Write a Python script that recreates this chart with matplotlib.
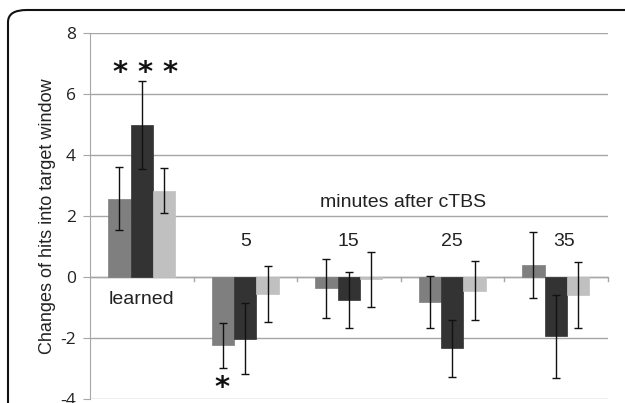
import numpy as np
import matplotlib.pyplot as plt
from matplotlib.patches import FancyBboxPatch

plt.rcParams['font.family'] = ['Liberation Sans', 'DejaVu Sans']

groups      = ["learned", "5", "15", "25", "35"]
series_a    = [2.57, -2.23, -0.37, -0.80, 0.40]
series_b    = [4.99, -2.02, -0.75, -2.33, -1.94]
series_c    = [2.84, -0.55, -0.07, -0.44, -0.58]
err_a       = [1.04, 0.74, 0.98, 0.85, 1.07]
err_b       = [1.43, 1.16, 0.92, 0.94, 1.36]
err_c       = [0.75, 0.93, 0.89, 0.96, 1.07]
y_ticks     = [-4, -2, 0, 2, 4, 6, 8]

colors = ["#7f7f7f", "#333333", "#c0c0c0"]

fig = plt.figure(figsize=(6.25, 4.03), dpi=100)
ax  = fig.add_axes([90 / 625, 3.7 / 403, 517.5 / 625, 366.3 / 403])

x     = np.arange(len(groups))
width = 0.217

for k, (vals, errs) in enumerate([(series_a, err_a), (series_b, err_b), (series_c, err_c)]):
    pos = x + (k - 1) * width
    ax.bar(pos, vals, width, color=colors[k], edgecolor=colors[k], linewidth=0.5, zorder=3)
    ax.errorbar(pos, vals, yerr=errs, fmt="none", ecolor="#111111",
                elinewidth=1.0, capsize=3, capthick=1.0, zorder=4)

ax.set_xlim(-0.5, len(groups) - 0.5)
ax.set_ylim(-4, 8)
ax.set_yticks(y_ticks)
ax.set_yticklabels([str(t) for t in y_ticks], fontsize=12.5, color="#222222",
                   family=['Open Sans', 'DejaVu Sans'])
ax.set_xticks([])
ax.yaxis.grid(True, color="#a6a6a6", linewidth=1.0, zorder=0)
ax.set_axisbelow(True)
ax.tick_params(axis="y", length=5, color="#a6a6a6", pad=5)

for side in ["top", "right", "bottom"]:
    ax.spines[side].set_visible(False)
ax.spines["left"].set_color("#a6a6a6")

# zero axis with category ticks
ax.axhline(0, color="#a6a6a6", linewidth=1.0, zorder=2)
for b in np.arange(0.5, len(groups), 1.0):
    ax.plot([b, b], [0, -0.14], color="#a6a6a6", linewidth=1.0, zorder=2, clip_on=False)

ax.set_ylabel("Changes of hits into target window", fontsize=13, color="#222222", labelpad=3)

# annotations
ax.text(x[0], -0.72, groups[0], ha="center", va="center", fontsize=14, color="#222222")
for i in range(1, len(groups)):
    ax.text(x[i] + (0.08 if i == 4 else 0), 1.18, groups[i], ha="center", va="center",
            fontsize=14, color="#222222")
ax.text(2.52, 2.45, "minutes after cTBS", ha="center", va="center", fontsize=14, color="#222222")

star_kw = dict(ha="center", va="center", fontsize=21, color="#111111",
               family="DejaVu Sans", fontweight="bold")
for k in range(3):
    ax.text(x[0] + 0.03 + (k - 1) * 0.24, 6.68, "*", **star_kw)
ax.text(x[1] - 0.22, -3.62, "*", **star_kw)

# rounded frame around the figure
frame = FancyBboxPatch((8 / 625, -0.2), 1.2, (403 - 10) / 403 + 0.2,
                       boxstyle="round,pad=0,rounding_size=0.03",
                       transform=fig.transFigure, fill=False,
                       edgecolor="#111111", linewidth=1.5)
fig.patches.append(frame)

fig.savefig("out.png", dpi=100)
